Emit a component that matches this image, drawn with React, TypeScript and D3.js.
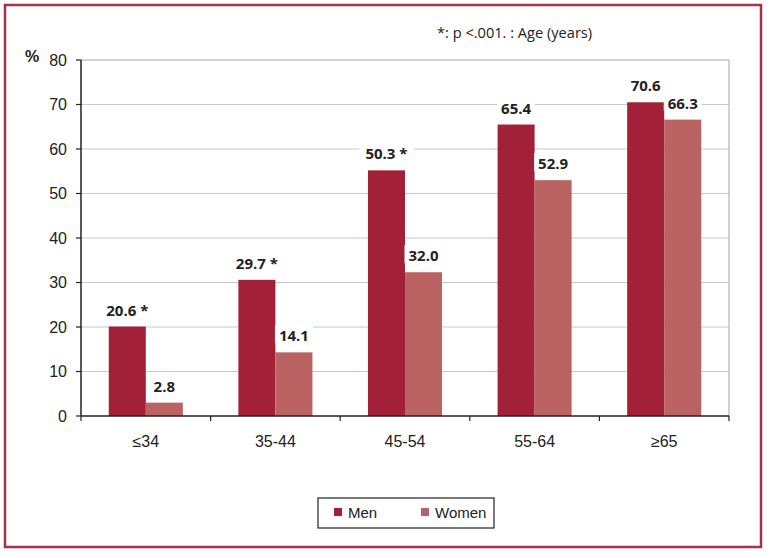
import React from "react";
import * as d3 from "d3";

const categories = ["≤34", "35-44", "45-54", "55-64", "≥65"];
const seriesNames = ["Men", "Women"];
// bar heights as drawn in the picture
const menValues = [20.1, 30.6, 55.2, 65.5, 70.5];
const womenValues = [3.0, 14.3, 32.3, 53.0, 66.6];
// printed value labels
const menLabels = ["20.6 *", "29.7 *", "50.3 *", "65.4", "70.6"];
const womenLabels = ["2.8", "14.1", "32.0", "52.9", "66.3"];
const yTicks = [0, 10, 20, 30, 40, 50, 60, 70, 80];
const note = "*: p <.001. : Age (years)";

const W = 770;
const H = 558;
const M = { left: 81, right: 729, top: 60, bottom: 416 };
const colors = ["#a22139", "#bb6262"];

export default function App() {
  const x0 = d3.scaleBand<string>().domain(categories).range([M.left, M.right]).paddingInner(0).paddingOuter(0);
  const x1 = d3.scaleBand<string>().domain(seriesNames).range([0, x0.bandwidth()]).paddingInner(0).paddingOuter(0.75);
  const y = d3.scaleLinear().domain([0, 80]).range([M.bottom, M.top]);
  const seriesVals = [menValues, womenValues];
  const seriesLabels = [menLabels, womenLabels];
  const tickFont = "'Liberation Sans', Arial, sans-serif";
  const labelFont = "'Open Sans', sans-serif";

  return (
    <svg width={W} height={H} style={{ position: "absolute", left: 0, top: 0, background: "#fff" }}>
      <rect x={0} y={0} width={W} height={H} fill="#fff" />
      <rect x={5} y={5} width={756} height={542} fill="none" stroke="#a8304a" strokeWidth={2.5} />
      {/* gridlines */}
      {yTicks.filter((t) => t > 0 && t < 80).map((t) => (
        <line key={t} x1={M.left} x2={M.right} y1={y(t)} y2={y(t)} stroke="#c8c8c8" strokeWidth={1} />
      ))}
      <line x1={M.left} x2={M.right} y1={y(80)} y2={y(80)} stroke="#a6a6a6" strokeWidth={1} />
      <line x1={M.right} x2={M.right} y1={y(80)} y2={y(0)} stroke="#a6a6a6" strokeWidth={1} />
      {/* bars */}
      {seriesNames.map((s, si) =>
        categories.map((c, ci) => {
          const v = seriesVals[si][ci];
          const bx = (x0(c) as number) + (x1(s) as number);
          return (
            <rect key={s + c} x={bx} y={y(v)} width={x1.bandwidth()} height={y(0) - y(v)} fill={colors[si]} />
          );
        })
      )}
      {/* value labels */}
      {seriesNames.map((s, si) =>
        categories.map((c, ci) => {
          const v = seriesVals[si][ci];
          const cx = (x0(c) as number) + (x1(s) as number) + x1.bandwidth() / 2;
          const lab = seriesLabels[si][ci];
          const tw = lab.length * 8;
          return (
            <g key={"l" + s + c}>
              <rect x={cx - tw / 2 - 3} y={y(v) - 27} width={tw + 6} height={18} fill="#fff" />
              <text x={cx} y={y(v) - 11} textAnchor="middle" fontFamily={labelFont} fontWeight="bold" fontSize={15} fill="#222">
                {lab}
              </text>
            </g>
          );
        })
      )}
      {/* axes */}
      <line x1={M.left} x2={M.left} y1={y(80)} y2={y(0)} stroke="#222" strokeWidth={1.5} />
      <line x1={M.left} x2={M.right} y1={y(0)} y2={y(0)} stroke="#222" strokeWidth={1.5} />
      {yTicks.map((t) => (
        <g key={"yt" + t}>
          <line x1={M.left - 5} x2={M.left} y1={y(t)} y2={y(t)} stroke="#222" strokeWidth={1.2} />
          <text x={M.left - 14} y={y(t)} dy="0.35em" textAnchor="end" fontFamily={tickFont} fontSize={16} fill="#222">
            {t}
          </text>
        </g>
      ))}
      {[...categories.map((c) => x0(c) as number), M.right].map((xv, i) => (
        <line key={"xt" + i} x1={xv} x2={xv} y1={y(0)} y2={y(0) + 5} stroke="#222" strokeWidth={1.2} />
      ))}
      {categories.map((c) => (
        <text key={"xl" + c} x={(x0(c) as number) + x0.bandwidth() / 2} y={447} textAnchor="middle" fontFamily={tickFont} fontSize={16} fill="#222">
          {c}
        </text>
      ))}
      <text x={25} y={62} fontFamily={tickFont} fontWeight="bold" fontSize={16} fill="#222">%</text>
      <text x={437} y={38} fontFamily={labelFont} fontSize={14.6} fill="#222">{note}</text>
      {/* legend */}
      <rect x={318} y={498} width={176} height={30} fill="#fff" stroke="#222" strokeWidth={1.2} />
      {seriesNames.map((s, si) => {
        const lx = si === 0 ? 334 : 421;
        return (
          <g key={"lg" + s}>
            <rect x={lx} y={508} width={8} height={8} fill={colors[si]} />
            <text x={lx + 14} y={517.5} fontFamily={tickFont} fontSize={15} fill="#222">{s}</text>
          </g>
        );
      })}
    </svg>
  );
}
